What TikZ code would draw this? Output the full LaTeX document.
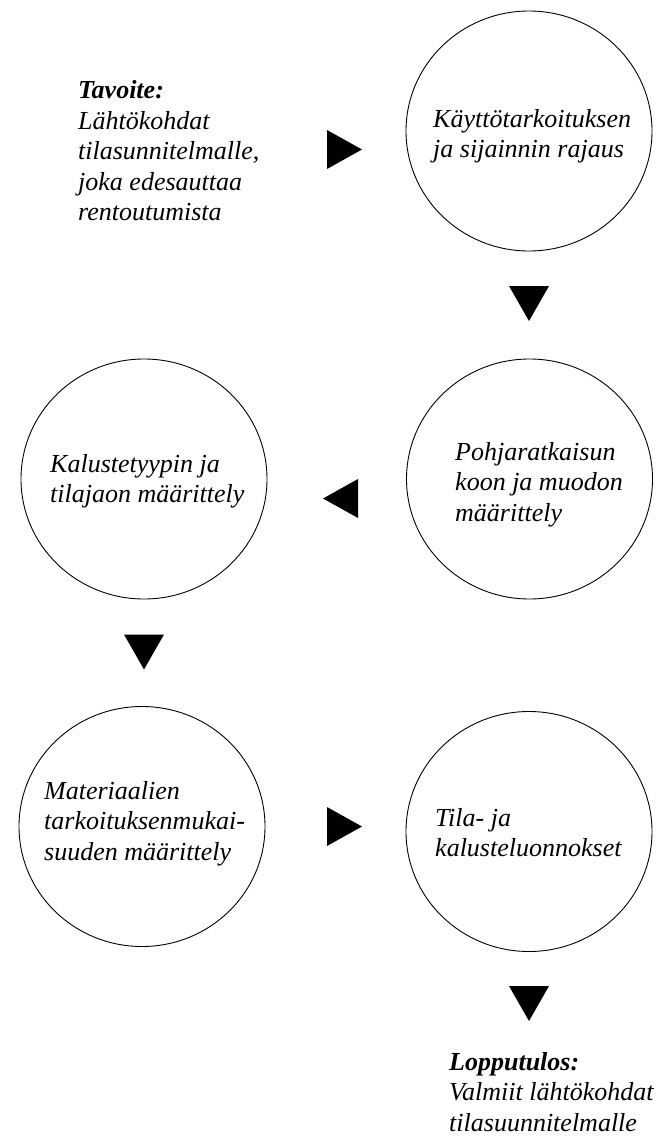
\documentclass[tikz,border=0pt]{standalone}
\usepackage{fontspec}
\setmainfont{Liberation Serif}
\usetikzlibrary{shapes.geometric}
\newcommand{\mylines}[1]{\begin{tabular}[t]{@{}l@{}}#1\end{tabular}}
\begin{document}
\begin{tikzpicture}[x=1pt,y=-1pt,
  stage/.style={ellipse, draw, line width=0.9pt, minimum width=246pt, minimum height=240pt, inner sep=0pt},
  txt/.style={anchor=base west, inner sep=0pt, font=\fontsize{26}{30.5}\selectfont\itshape},
  tri/.style={fill=black}]
\useasboundingbox[fill=white] (0,0) rectangle (661,1140);
% stages
\node[stage] (e1) at (529,131) {};
\node[stage] (e2r) at (529.5,479) {};
\node[stage] (e2l) at (144,479) {};
\node[stage] (e3l) at (142,826.5) {};
\node[stage] (e3r) at (529,831.5) {};
% texts
\node[txt] (goal) at (78,99) {\mylines{\textbf{Tavoite:}\\Lähtökohdat\\tilasunnitelmalle,\\joka edesauttaa\\rentoutumista}};
\node[txt] (t1) at (433,127) {\mylines{Käyttötarkoituksen\\ja sijainnin rajaus}};
\node[txt] (t2r) at (455,460) {\mylines{Pohjaratkaisun\\koon ja muodon\\määrittely}};
\node[txt] (t2l) at (50,472) {\mylines{Kalustetyypin ja\\tilajaon määrittely}};
\node[txt] (t3l) at (44,799) {\mylines{Materiaalien\\tarkoituksenmukai-\\suuden määrittely}};
\node[txt] (t3r) at (435,826) {\mylines{Tila- ja\\kalusteluonnokset}};
\node[txt] (result) at (449,1070) {\mylines{\textbf{Lopputulos:}\\Valmiit lähtökohdat\\tilasuunnitelmalle}};
% arrows
\coordinate (a1) at (344.5,149.5);
\coordinate (a2) at (529,303.5);
\coordinate (a3) at (340.5,498.5);
\coordinate (a4) at (144,652);
\coordinate (a5) at (344.5,826.5);
\coordinate (a6) at (529,1003.5);
\fill[tri,shift={(a1)}] (-17.5,-19.5) -- (17.5,0) -- (-17.5,19.5) -- cycle;
\fill[tri,shift={(a2)}] (-20,-17.5) -- (20,-17.5) -- (0,17.5) -- cycle;
\fill[tri,shift={(a3)}] (17.5,-19.5) -- (-17.5,0) -- (17.5,19.5) -- cycle;
\fill[tri,shift={(a4)}] (-20,-17.5) -- (20,-17.5) -- (0,17.5) -- cycle;
\fill[tri,shift={(a5)}] (-17.5,-19.5) -- (17.5,0) -- (-17.5,19.5) -- cycle;
\fill[tri,shift={(a6)}] (-20,-17.5) -- (20,-17.5) -- (0,17.5) -- cycle;
\end{tikzpicture}
\end{document}
